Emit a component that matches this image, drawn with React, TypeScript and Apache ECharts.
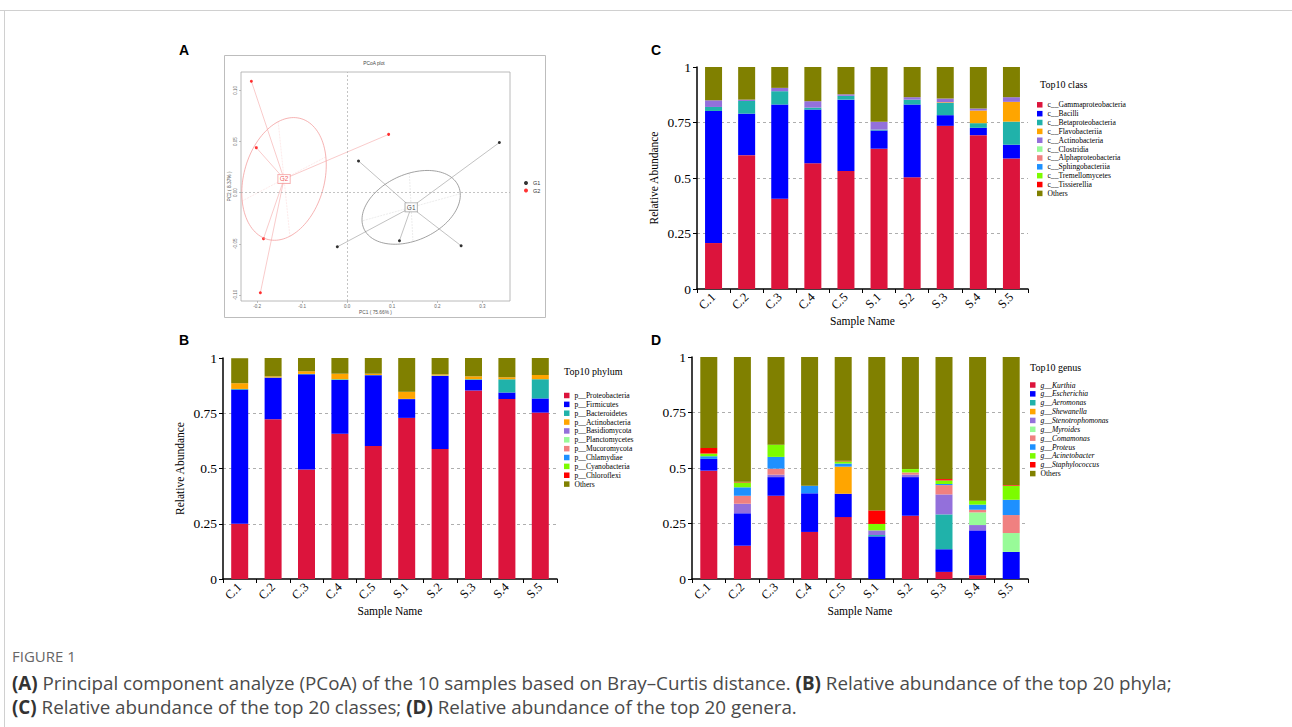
import React, { useEffect, useRef } from "react";
import * as echarts from "echarts";

const SERIF = '"Liberation Serif", "Times New Roman", serif';
const SANS = '"Liberation Sans", Arial, sans-serif';
const CAPTION = '"Open Sans", "Noto Sans", sans-serif';

const samples = ["C.1", "C.2", "C.3", "C.4", "C.5", "S.1", "S.2", "S.3", "S.4", "S.5"];
const taxonColors = ["#DC143C", "#0000FF", "#20B2AA", "#FFA500", "#9370DB", "#98FB98", "#F08080", "#1E90FF", "#7CFC00", "#FF0000", "#808000"];

// ---- Panel A: PCoA ----
const groupG1Points = [[0.025, 0.031], [0.338, 0.049], [-0.022, -0.053], [0.116, -0.047], [0.253, -0.052]];
const groupG2Points = [[-0.213, 0.109], [-0.202, 0.044], [0.092, 0.057], [-0.186, -0.045], [-0.193, -0.098]];
const pcoaXTicks = [-0.2, -0.1, 0, 0.1, 0.2, 0.3];
const pcoaYTicks = [-0.1, -0.05, 0, 0.05, 0.1];
const ellipseCoeff = 0.72;

// ---- Panel B: phylum ----
const phylumNames = ["p__Proteobacteria", "p__Firmicutes", "p__Bacteroidetes", "p__Actinobacteria", "p__Basidiomycota", "p__Planctomycetes", "p__Mucoromycota", "p__Chlamydiae", "p__Cyanobacteria", "p__Chloroflexi", "Others"];
const phylumProteobacteria = [0.250, 0.723, 0.496, 0.657, 0.602, 0.729, 0.588, 0.853, 0.814, 0.753];
const phylumFirmicutes = [0.607, 0.188, 0.430, 0.244, 0.320, 0.085, 0.331, 0.048, 0.030, 0.064];
const phylumBacteroidetes = [0.003, 0.001, 0.002, 0.003, 0.001, 0.001, 0.002, 0.003, 0.060, 0.087];
const phylumActinobacteria = [0.026, 0.005, 0.012, 0.025, 0.006, 0.032, 0.005, 0.013, 0.009, 0.019];
const phylumBasidiomycota = [0, 0, 0, 0, 0, 0, 0, 0, 0, 0];
const phylumPlanctomycetes = [0, 0, 0, 0, 0, 0, 0, 0, 0, 0];
const phylumMucoromycota = [0, 0, 0, 0, 0, 0, 0, 0, 0, 0];
const phylumChlamydiae = [0, 0, 0, 0, 0, 0, 0, 0, 0, 0];
const phylumCyanobacteria = [0, 0, 0, 0, 0, 0, 0, 0, 0, 0];
const phylumChloroflexi = [0, 0, 0, 0, 0, 0, 0, 0, 0, 0];
const phylumOthers = [0.113, 0.083, 0.060, 0.071, 0.071, 0.153, 0.074, 0.083, 0.087, 0.077];

// ---- Panel C: class ----
const classNames = ["c__Gammaproteobacteria", "c__Bacilli", "c__Betaproteobacteria", "c__Flavobacteriia", "c__Actinobacteria", "c__Clostridia", "c__Alphaproteobacteria", "c__Sphingobacteriia", "c__Tremellomycetes", "c__Tissierellia", "Others"];
const classGammaproteobacteria = [0.207, 0.603, 0.406, 0.566, 0.531, 0.632, 0.503, 0.735, 0.693, 0.588];
const classBacilli = [0.595, 0.187, 0.425, 0.242, 0.322, 0.082, 0.328, 0.048, 0.033, 0.062];
const classBetaproteobacteria = [0.018, 0.057, 0.060, 0.009, 0.017, 0.004, 0.022, 0.055, 0.021, 0.104];
const classFlavobacteriia = [0, 0, 0, 0, 0, 0, 0, 0.003, 0.057, 0.089];
const classActinobacteria = [0.030, 0.006, 0.015, 0.029, 0.007, 0.035, 0.011, 0.017, 0.009, 0.021];
const classClostridia = [0, 0, 0, 0, 0, 0, 0, 0, 0, 0];
const classAlphaproteobacteria = [0, 0, 0, 0, 0, 0, 0, 0, 0, 0];
const classSphingobacteriia = [0, 0, 0, 0, 0, 0, 0, 0, 0, 0];
const classTremellomycetes = [0, 0, 0, 0, 0, 0, 0, 0, 0, 0];
const classTissierellia = [0, 0, 0, 0, 0, 0, 0, 0, 0, 0];
const classOthers = [0.150, 0.147, 0.094, 0.154, 0.123, 0.247, 0.136, 0.142, 0.187, 0.136];

// ---- Panel D: genus ----
const genusNames = ["g__Kurthia", "g__Escherichia", "g__Aeromonas", "g__Shewanella", "g__Stenotrophomonas", "g__Myroides", "g__Comamonas", "g__Proteus", "g__Acinetobacter", "g__Staphylococcus", "Others"];
const genusKurthia = [0.488, 0.150, 0.375, 0.212, 0.279, 0, 0.285, 0.032, 0.017, 0];
const genusEscherichia = [0.053, 0.146, 0.084, 0.174, 0.105, 0.192, 0.174, 0.102, 0.202, 0.122];
const genusAeromonas = [0, 0, 0, 0, 0, 0.006, 0, 0.157, 0, 0];
const genusShewanella = [0, 0, 0, 0, 0.122, 0, 0, 0, 0, 0];
const genusStenotrophomonas = [0, 0.043, 0.011, 0, 0, 0.021, 0.011, 0.090, 0.024, 0];
const genusMyroides = [0, 0, 0, 0, 0, 0, 0, 0, 0.057, 0.085];
const genusComamonas = [0, 0.036, 0.027, 0, 0, 0, 0.010, 0.042, 0.012, 0.081];
const genusProteus = [0.012, 0.038, 0.053, 0.034, 0.014, 0, 0, 0.005, 0.023, 0.069];
const genusAcinetobacter = [0.012, 0.022, 0.055, 0, 0.010, 0.029, 0.015, 0.016, 0.018, 0.063];
const genusStaphylococcus = [0.025, 0.003, 0, 0, 0.003, 0.061, 0, 0.006, 0, 0.003];
const genusOthers = [0.410, 0.562, 0.395, 0.580, 0.467, 0.691, 0.505, 0.550, 0.647, 0.577];

const phylumValues = [phylumProteobacteria, phylumFirmicutes, phylumBacteroidetes, phylumActinobacteria, phylumBasidiomycota, phylumPlanctomycetes, phylumMucoromycota, phylumChlamydiae, phylumCyanobacteria, phylumChloroflexi, phylumOthers];
const classValues = [classGammaproteobacteria, classBacilli, classBetaproteobacteria, classFlavobacteriia, classActinobacteria, classClostridia, classAlphaproteobacteria, classSphingobacteriia, classTremellomycetes, classTissierellia, classOthers];
const genusValues = [genusKurthia, genusEscherichia, genusAeromonas, genusShewanella, genusStenotrophomonas, genusMyroides, genusComamonas, genusProteus, genusAcinetobacter, genusStaphylococcus, genusOthers];

function ellipseGeom(pts: number[][], k: number) {
  const n = pts.length;
  const mx = pts.reduce((s, p) => s + p[0], 0) / n;
  const my = pts.reduce((s, p) => s + p[1], 0) / n;
  let vx = 0, vy = 0, cxy = 0;
  pts.forEach((p) => {
    vx += (p[0] - mx) ** 2;
    vy += (p[1] - my) ** 2;
    cxy += (p[0] - mx) * (p[1] - my);
  });
  vx /= n - 1; vy /= n - 1; cxy /= n - 1;
  const delta = Math.sqrt((vx - vy) ** 2 + 4 * cxy * cxy);
  let l1 = (vx + vy + delta) / 2;
  let l2 = vx + vy - l1;
  l1 = Math.sqrt(Math.max(l1, 0));
  l2 = Math.sqrt(Math.max(l2, 0));
  let a0 = 1, b0 = (l1 * l1 - vx) / cxy;
  const norm = Math.sqrt(a0 * a0 + b0 * b0);
  a0 /= norm; b0 /= norm;
  const c11 = k * a0 * l1, c12 = -k * b0 * l2, c21 = k * b0 * l1, c22 = k * a0 * l2;
  const ring: number[][] = [];
  for (let i = 0; i <= 120; i++) {
    const t = (2 * Math.PI * i) / 120;
    ring.push([mx + c11 * Math.cos(t) + c12 * Math.sin(t), my + c21 * Math.cos(t) + c22 * Math.sin(t)]);
  }
  return {
    center: [mx, my],
    ring,
    seg1: [[mx + c11, my + c21], [mx - c11, my - c21]],
    seg2: [[mx + c12, my + c22], [mx - c12, my - c22]],
  };
}

function barSeries(names: string[], values: number[][], stack: string, gi: number) {
  return names.map((name, i) => ({
    type: "bar",
    name,
    stack,
    xAxisIndex: gi,
    yAxisIndex: gi,
    data: values[i],
    barWidth: 17,
    silent: true,
    itemStyle: { color: taxonColors[i] },
  }));
}

function barXAxis(gi: number) {
  return {
    type: "category",
    gridIndex: gi,
    data: samples,
    axisLine: { show: true, lineStyle: { color: "#000", width: 1.5 } },
    axisTick: { show: true, length: 4, lineStyle: { color: "#000", width: 1 } },
    axisLabel: { rotate: 45, fontFamily: SERIF, fontSize: 12.5, color: "#000", margin: 6 },
    name: "Sample Name",
    nameLocation: "middle",
    nameGap: 21,
    nameTextStyle: { fontFamily: SERIF, fontSize: 11.5, color: "#000" },
  };
}

function barYAxis(gi: number, withName: boolean, gap: number) {
  return {
    type: "value",
    gridIndex: gi,
    min: 0,
    max: 1,
    interval: 0.25,
    axisLine: { show: true, lineStyle: { color: "#000", width: 1.5 } },
    axisTick: { show: true, length: 4, lineStyle: { color: "#000", width: 1 } },
    axisLabel: { formatter: (v: number) => String(v), fontFamily: SERIF, fontSize: 13.5, color: "#000", margin: 6 },
    splitLine: { show: true, showMinLine: false, showMaxLine: false, lineStyle: { type: [3, 3], color: "#999", width: 0.8 } },
    name: withName ? "Relative Abundance" : "",
    nameLocation: "middle",
    nameGap: gap,
    nameRotate: 90,
    nameTextStyle: { fontFamily: SERIF, fontSize: 11.5, color: "#000" },
  };
}

function barLegend(names: string[], left: number, top: number, italic: boolean) {
  return {
    orient: "vertical",
    left,
    top,
    selectedMode: false,
    icon: "rect",
    itemWidth: 5.5,
    itemHeight: 5.5,
    itemGap: 0.86,
    padding: 0,
    data: names.map((n) => ({
      name: n,
      textStyle: { fontStyle: italic && n !== "Others" ? "italic" : "normal" },
    })),
    textStyle: { fontFamily: SERIF, fontSize: 7.6, color: "#000", lineHeight: 8 },
  };
}

export default function App() {
  const ref = useRef<HTMLDivElement>(null);
  useEffect(() => {
    if (!ref.current) return;
    const chart = echarts.init(ref.current, undefined, { renderer: "svg" });
    const e1 = ellipseGeom(groupG1Points, ellipseCoeff);
    const e2 = ellipseGeom(groupG2Points, ellipseCoeff);
    const g1Color = "#000000";
    const g2Color = "#FF0000";

    const pcoaSeries: any[] = [
      {
        type: "line",
        xAxisIndex: 0,
        yAxisIndex: 0,
        data: e2.ring,
        showSymbol: false,
        symbol: "none",
        silent: true,
        lineStyle: { color: "#F4A0A0", width: 0.8 },
        markLine: {
          silent: true,
          symbol: ["none", "none"],
          label: { show: false },
          lineStyle: { type: [2, 2], color: "#aaa", width: 0.7 },
          data: [{ xAxis: 0 }, { yAxis: 0 }],
        },
      },
      {
        type: "line",
        xAxisIndex: 0,
        yAxisIndex: 0,
        data: e1.ring,
        showSymbol: false,
        symbol: "none",
        silent: true,
        lineStyle: { color: "#8a8a8a", width: 0.8 },
      },
      {
        type: "lines",
        coordinateSystem: "cartesian2d",
        xAxisIndex: 0,
        yAxisIndex: 0,
        silent: true,
        lineStyle: { color: "#F8C4C4", width: 0.7, type: [2, 1] },
        data: [{ coords: e2.seg1 }, { coords: e2.seg2 }],
      },
      {
        type: "lines",
        coordinateSystem: "cartesian2d",
        xAxisIndex: 0,
        yAxisIndex: 0,
        silent: true,
        lineStyle: { color: "#c8c8c8", width: 0.7, type: [2, 1] },
        data: [{ coords: e1.seg1 }, { coords: e1.seg2 }],
      },
      {
        type: "lines",
        coordinateSystem: "cartesian2d",
        xAxisIndex: 0,
        yAxisIndex: 0,
        silent: true,
        lineStyle: { color: "#F07E7E", width: 0.8 },
        data: groupG2Points.map((p) => ({ coords: [e2.center, p] })),
      },
      {
        type: "lines",
        coordinateSystem: "cartesian2d",
        xAxisIndex: 0,
        yAxisIndex: 0,
        silent: true,
        lineStyle: { color: "#666", width: 0.8 },
        data: groupG1Points.map((p) => ({ coords: [e1.center, p] })),
      },
      {
        type: "scatter",
        name: "G1",
        xAxisIndex: 0,
        yAxisIndex: 0,
        data: groupG1Points,
        symbolSize: 3,
        itemStyle: { color: g1Color },
        silent: true,
      },
      {
        type: "scatter",
        name: "G2",
        xAxisIndex: 0,
        yAxisIndex: 0,
        data: groupG2Points,
        symbolSize: 3,
        itemStyle: { color: g2Color },
        silent: true,
      },
      {
        type: "scatter",
        xAxisIndex: 0,
        yAxisIndex: 0,
        silent: true,
        symbolSize: 1,
        itemStyle: { color: "rgba(0,0,0,0)" },
        data: [
          { value: e1.center, label: { formatter: "G1", color: "#222", borderColor: "#888" } },
          { value: e2.center, label: { formatter: "G2", color: "#E33", borderColor: "#F28C8C" } },
        ],
        label: {
          show: true,
          position: "inside",
          fontSize: 6.5,
          fontFamily: SANS,
          backgroundColor: "#fff",
          borderWidth: 0.7,
          padding: [1, 1.5, 0.5, 1.5],
        },
        z: 5,
      },
    ];

    const option: any = {
      animation: false,
      backgroundColor: "#ffffff",
      grid: [
        { left: 241, top: 72, width: 269, height: 229, show: true, borderColor: "#a8a8a8", borderWidth: 0.8, backgroundColor: "transparent", containLabel: false, outerBoundsMode: "none" },
        { left: 223, top: 358, width: 334, height: 221, containLabel: false, outerBoundsMode: "none" },
        { left: 697, top: 67, width: 331, height: 222, containLabel: false, outerBoundsMode: "none" },
        { left: 692, top: 357, width: 336, height: 222, containLabel: false, outerBoundsMode: "none" },
      ],
      xAxis: [
        {
          type: "value",
          gridIndex: 0,
          min: -0.236,
          max: 0.3616,
          axisLine: { show: false, onZero: false },
          axisTick: { show: true, length: 2, customValues: pcoaXTicks, lineStyle: { color: "#999", width: 0.6 } },
          axisLabel: { show: true, customValues: pcoaXTicks, formatter: (v: number) => v.toFixed(1), fontSize: 4.5, color: "#666", fontFamily: SANS, margin: 3 },
          splitLine: { show: false },
          name: "PC1 ( 75.66% )",
          nameLocation: "middle",
          nameGap: 9,
          nameTextStyle: { fontSize: 4.8, color: "#555", fontFamily: SANS },
        },
        barXAxis(1),
        barXAxis(2),
        barXAxis(3),
      ],
      yAxis: [
        {
          type: "value",
          gridIndex: 0,
          min: -0.106,
          max: 0.118,
          axisLine: { show: false, onZero: false },
          axisTick: { show: true, length: 2, customValues: pcoaYTicks, lineStyle: { color: "#999", width: 0.6 } },
          axisLabel: { show: true, customValues: pcoaYTicks, rotate: 90, formatter: (v: number) => v.toFixed(2), fontSize: 4.5, color: "#666", fontFamily: SANS, margin: 3 },
          splitLine: { show: false },
          name: "PC2 ( 8.37% )",
          nameLocation: "middle",
          nameGap: 9,
          nameRotate: 90,
          nameTextStyle: { fontSize: 4.8, color: "#555", fontFamily: SANS },
        },
        barYAxis(1, true, 37),
        barYAxis(2, true, 37),
        barYAxis(3, false, 37),
      ],
      legend: [
        {
          orient: "vertical",
          left: 524,
          top: 180,
          selectedMode: false,
          icon: "circle",
          itemWidth: 4,
          itemHeight: 4,
          itemGap: 1.5,
          padding: 0,
          data: ["G1", "G2"],
          textStyle: { fontSize: 5.5, color: "#333", fontFamily: SANS },
        },
        barLegend(phylumNames, 564, 391.5, false),
        barLegend(classNames, 1037, 100.8, false),
        barLegend(genusNames, 1030, 381, true),
      ],
      series: [
        ...pcoaSeries,
        ...barSeries(phylumNames, phylumValues, "B", 1),
        ...barSeries(classNames, classValues, "C", 2),
        ...barSeries(genusNames, genusValues, "D", 3),
      ],
      graphic: {
        elements: [
          { type: "line", silent: true, shape: { x1: 0, y1: 10.5, x2: 1292, y2: 10.5 }, style: { stroke: "#d0d0d0", lineWidth: 1 } },
          { type: "line", silent: true, shape: { x1: 4.5, y1: 10.5, x2: 4.5, y2: 727 }, style: { stroke: "#d0d0d0", lineWidth: 1 } },
          { type: "rect", silent: true, shape: { x: 224.5, y: 55.5, width: 321, height: 262 }, style: { fill: "none", stroke: "#bdbdbd", lineWidth: 1 } },
          { type: "text", silent: true, x: 374, y: 63, style: { text: "PCoA plot", fontSize: 4.8, fontFamily: SANS, fill: "#444", align: "center", verticalAlign: "middle" } },
          { type: "text", silent: true, x: 184, y: 50, style: { text: "A", fontSize: 14, fontWeight: "bold", fontFamily: SANS, fill: "#000", align: "center", verticalAlign: "middle" } },
          { type: "text", silent: true, x: 184, y: 340, style: { text: "B", fontSize: 14, fontWeight: "bold", fontFamily: SANS, fill: "#000", align: "center", verticalAlign: "middle" } },
          { type: "text", silent: true, x: 656, y: 50, style: { text: "C", fontSize: 14, fontWeight: "bold", fontFamily: SANS, fill: "#000", align: "center", verticalAlign: "middle" } },
          { type: "text", silent: true, x: 656, y: 340, style: { text: "D", fontSize: 14, fontWeight: "bold", fontFamily: SANS, fill: "#000", align: "center", verticalAlign: "middle" } },
          { type: "text", silent: true, x: 564, y: 371, style: { text: "Top10 phylum", fontSize: 10, fontFamily: SERIF, fill: "#000", align: "left", verticalAlign: "middle" } },
          { type: "text", silent: true, x: 1040, y: 84, style: { text: "Top10 class", fontSize: 10, fontFamily: SERIF, fill: "#000", align: "left", verticalAlign: "middle" } },
          { type: "text", silent: true, x: 1030, y: 367, style: { text: "Top10 genus", fontSize: 10, fontFamily: SERIF, fill: "#000", align: "left", verticalAlign: "middle" } },
          { type: "text", silent: true, x: 12, y: 656, style: { text: "FIGURE 1", fontSize: 15, fontFamily: CAPTION, fill: "#666", align: "left", verticalAlign: "middle" } },
          {
            type: "text",
            silent: true,
            x: 12,
            y: 683,
            style: {
              text: "{b|(A)} Principal component analyze (PCoA) of the 10 samples based on Bray\u2013Curtis distance. {b|(B)} Relative abundance of the top 20 phyla;",
              fontSize: 18.8,
              fontFamily: CAPTION,
              fill: "#4a4a4a",
              align: "left",
              verticalAlign: "middle",
              rich: { b: { fontSize: 18.8, fontFamily: CAPTION, fontWeight: "bold", fill: "#333" } },
            },
          },
          {
            type: "text",
            silent: true,
            x: 12,
            y: 707,
            style: {
              text: "{b|(C)} Relative abundance of the top 20 classes; {b|(D)} Relative abundance of the top 20 genera.",
              fontSize: 18.8,
              fontFamily: CAPTION,
              fill: "#4a4a4a",
              align: "left",
              verticalAlign: "middle",
              rich: { b: { fontSize: 18.8, fontFamily: CAPTION, fontWeight: "bold", fill: "#333" } },
            },
          },
        ],
      },
    };
    chart.setOption(option);
    return () => chart.dispose();
  }, []);
  return <div ref={ref} style={{ position: "absolute", left: 0, top: 0, width: 1292, height: 727 }} />;
}
